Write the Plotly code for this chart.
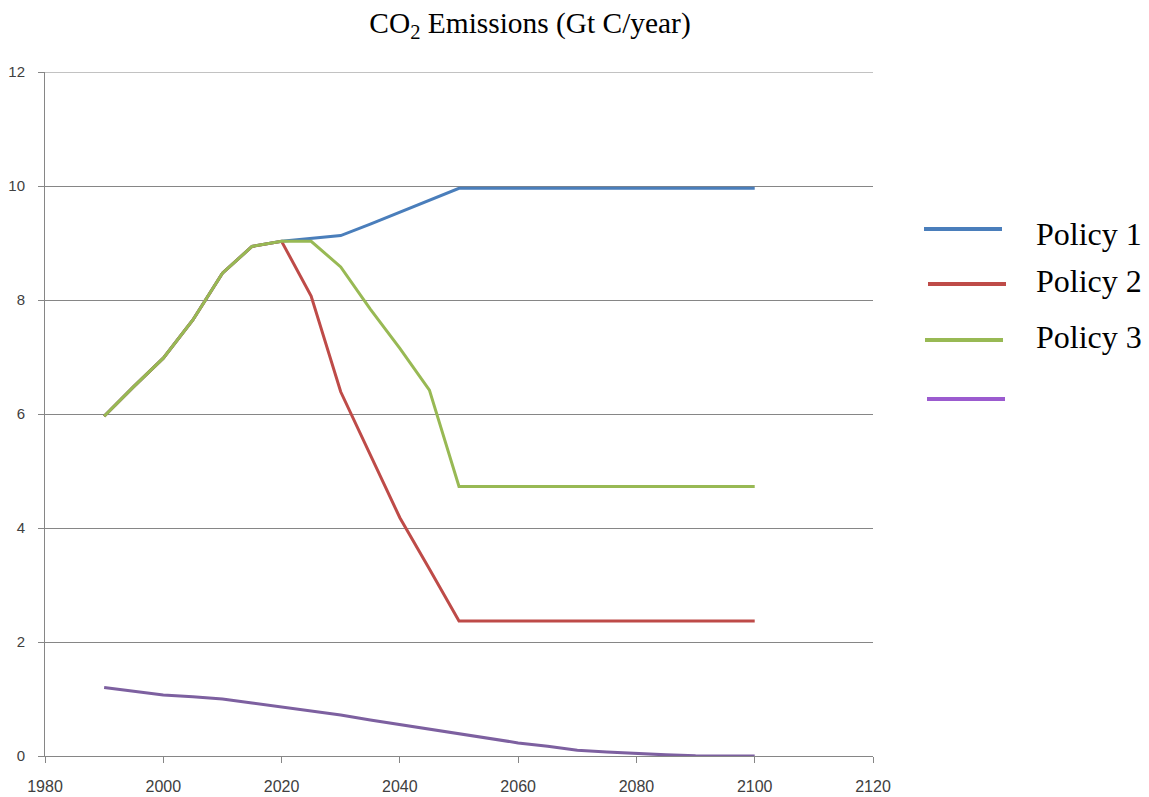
import plotly.graph_objects as go

years = [1990, 1995, 2000, 2005, 2010, 2015, 2020, 2025, 2030, 2035, 2040, 2045, 2050, 2100]
policy1 = [5.96, 6.48, 6.98, 7.65, 8.47, 8.94, 9.03, 9.08, 9.13, 9.33, 9.54, 9.75, 9.96, 9.96]
policy2 = [5.96, 6.48, 6.98, 7.65, 8.47, 8.94, 9.03, 8.07, 6.39, 5.30, 4.18, 3.28, 2.37, 2.37]
policy3 = [5.96, 6.48, 6.98, 7.65, 8.47, 8.94, 9.03, 9.03, 8.58, 7.84, 7.15, 6.42, 4.73, 4.73]

years4 = [1990, 1995, 2000, 2005, 2010, 2015, 2020, 2025, 2030, 2035, 2040, 2045, 2050,
          2055, 2060, 2065, 2070, 2075, 2080, 2085, 2090, 2095, 2100]
series4 = [1.20, 1.14, 1.07, 1.04, 1.00, 0.93, 0.86, 0.80, 0.72, 0.63, 0.55, 0.47, 0.38,
           0.30, 0.23, 0.17, 0.10, 0.07, 0.04, 0.02, 0.005, 0.003, 0.0]

x_ticks = [1980, 2000, 2020, 2040, 2060, 2080, 2100, 2120]
y_ticks = [0, 2, 4, 6, 8, 10, 12]

legend_labels = ["Policy 1", "Policy 2", "Policy 3", ""]
line_colors = ["#4A7EBB", "#BE4B48", "#98B954", "#7D60A0"]
legend_colors = ["#4A7EBB", "#BE4B48", "#98B954", "#9B5BCF"]

fig = go.Figure()
fig.add_trace(go.Scatter(x=years, y=policy1, mode="lines", line=dict(color=line_colors[0], width=3), name=legend_labels[0]))
fig.add_trace(go.Scatter(x=years, y=policy2, mode="lines", line=dict(color=line_colors[1], width=3), name=legend_labels[1]))
fig.add_trace(go.Scatter(x=years, y=policy3, mode="lines", line=dict(color=line_colors[2], width=3), name=legend_labels[2]))
fig.add_trace(go.Scatter(x=years4, y=series4, mode="lines", line=dict(color=line_colors[3], width=3), name="series 4"))

# plot area in pixels
L, R, T, B = 45, 873, 72, 756
W, H = 1149, 797

def px(x):
    return (x - L) / (R - L)

def py(y):
    return (B - y) / (B - T)

# manual legend (line samples at pixel positions)
leg_lines = [(924, 1002, 229), (928, 1006, 284), (925, 1003, 340), (927, 1005, 399)]
leg_text_y = [234, 281, 337]
shapes = [dict(type="line", xref="paper", yref="y", x0=0, x1=1, y0=y_ticks[-1], y1=y_ticks[-1],
               line=dict(color="#868686", width=1), layer="below")]
annotations = []
for i, (x0, x1, yy) in enumerate(leg_lines):
    shapes.append(dict(type="line", xref="paper", yref="paper",
                       x0=px(x0), x1=px(x1), y0=py(yy), y1=py(yy),
                       line=dict(color=legend_colors[i], width=4)))
for i, ty in enumerate(leg_text_y):
    annotations.append(dict(text=legend_labels[i], xref="paper", yref="paper",
                            x=px(1034), y=py(ty), xanchor="left", yanchor="middle",
                            showarrow=False,
                            font=dict(family="Liberation Serif", size=32, color="#000000")))

fig.update_layout(
    width=W, height=H,
    margin=dict(l=L, r=W - R, t=T, b=H - B, autoexpand=False),
    paper_bgcolor="white", plot_bgcolor="white",
    showlegend=False,
    title=dict(text="CO<sub>2</sub> Emissions (Gt C/year)", x=530 / W, xanchor="center",
               y=1 - 23 / H, yanchor="middle", xref="container", yref="container",
               font=dict(family="Liberation Serif", size=29.4, color="#000000")),
    shapes=shapes,
    annotations=annotations,
)
fig.update_xaxes(range=[1980, 2120], tickvals=x_ticks, ticktext=[str(v) for v in x_ticks],
                 showgrid=False, zeroline=False, showline=True, linecolor="#868686", linewidth=1,
                 ticks="outside", ticklen=6, tickcolor="#868686", automargin=False,
                 tickfont=dict(family="Liberation Sans", size=16, color="#404040"),
                 ticklabelstandoff=10)
fig.update_yaxes(range=[0, 12], tickvals=y_ticks, ticktext=[str(v) for v in y_ticks],
                 showgrid=True, gridcolor="#868686", gridwidth=1, zeroline=False,
                 showline=True, linecolor="#868686", linewidth=1,
                 ticks="outside", ticklen=6, tickcolor="#868686", automargin=False,
                 tickfont=dict(family="Liberation Sans", size=15, color="#404040"),
                 ticklabelstandoff=10)

fig.write_html("out.html", config={"displayModeBar": False},
               post_script="document.body.style.margin='0';")
